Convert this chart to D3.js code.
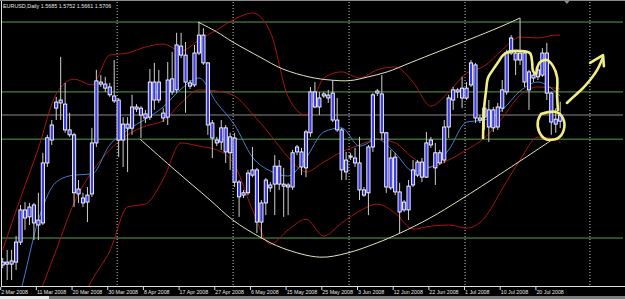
<!DOCTYPE html>
<html>
<head>
<style>
  body { margin: 0; background: #000; overflow: hidden; }
  text { font-family: "Liberation Sans", Arial, sans-serif; fill: #e6e6e6; }
</style>
<script src="https://d3js.org/d3.v7.min.js"></script>
</head>
<body>
<script>
const w = 625;
const h = 299;

// daily bars, Sunday sessions included (no Saturdays)
const dates = d3.timeDay.range(new Date(2008, 2, 2), new Date(2008, 6, 26)).filter(d => d.getDay() !== 6);

const open = [1.5189,1.5199,1.5192,1.5199,1.5268,1.5379,1.5355,1.5396,1.5327,1.5334,
  1.5541,1.5620,1.5730,1.5758,1.5744,1.5655,1.5638,1.5434,1.5420,1.5406,
  1.5434,1.5610,1.5820,1.5813,1.5803,1.5772,1.5758,1.5620,1.5675,1.5661,
  1.5734,1.5730,1.5710,1.5699,1.5820,1.5758,1.5713,1.5699,1.5831,1.5793,
  1.5944,1.5913,1.5817,1.5810,1.5920,1.5982,1.5886,1.5679,1.5620,1.5613,
  1.5662,1.5576,1.5627,1.5475,1.5438,1.5438,1.5517,1.5517,1.5337,1.5403,
  1.5465,1.5468,1.5530,1.5468,1.5458,1.5458,1.5596,1.5579,1.5524,1.5645,
  1.5786,1.5734,1.5779,1.5775,1.5782,1.5689,1.5655,1.5510,1.5565,1.5558,
  1.5541,1.5448,1.5438,1.5596,1.5789,1.5779,1.5645,1.5455,1.5561,1.5441,
  1.5379,1.5379,1.5465,1.5499,1.5544,1.5492,1.5620,1.5576,1.5541,1.5551,
  1.5665,1.5758,1.5793,1.5799,1.5765,1.5810,1.5879,1.5696,1.5699,1.5724,
  1.5662,1.5665,1.5730,1.5786,1.5920,1.5920,1.5896,1.5920,1.5793,1.5844,
  1.5838,1.5844,1.5920,1.5782,1.5675,1.5685];
const high = [1.5213,1.5241,1.5241,1.5289,1.5396,1.5406,1.5403,1.5403,1.5438,1.5576,
  1.5638,1.5689,1.5769,1.5907,1.5817,1.5714,1.5645,1.5482,1.5438,1.5458,
  1.5662,1.5862,1.5844,1.5838,1.5817,1.5896,1.5765,1.5699,1.5699,1.5776,
  1.5744,1.5737,1.5724,1.5865,1.5886,1.5862,1.5730,1.5889,1.5924,1.5990,
  1.5990,1.5958,1.5827,1.5948,1.6027,1.6006,1.5889,1.5689,1.5631,1.5689,
  1.5672,1.5645,1.5645,1.5482,1.5448,1.5517,1.5596,1.5524,1.5413,1.5489,
  1.5475,1.5568,1.5551,1.5524,1.5472,1.5586,1.5603,1.5593,1.5655,1.5803,
  1.5820,1.5786,1.5786,1.5793,1.5827,1.5765,1.5662,1.5579,1.5576,1.5593,
  1.5631,1.5458,1.5603,1.5782,1.5796,1.5844,1.5648,1.5586,1.5576,1.5472,
  1.5413,1.5482,1.5551,1.5551,1.5558,1.5648,1.5631,1.5610,1.5586,1.5689,
  1.5776,1.5803,1.5799,1.5838,1.5820,1.5896,1.5886,1.5706,1.5748,1.5758,
  1.5734,1.5748,1.5827,1.5931,1.5982,1.5924,1.6041,1.5924,1.5862,1.5851,
  1.5869,1.5937,1.5955,1.5786,1.5730,1.5752];
const low = [1.5178,1.5137,1.5137,1.5172,1.5258,1.5310,1.5327,1.5275,1.5275,1.5327,
  1.5527,1.5603,1.5689,1.5689,1.5645,1.5631,1.5389,1.5403,1.5389,1.5337,
  1.5424,1.5596,1.5803,1.5786,1.5769,1.5748,1.5561,1.5527,1.5510,1.5638,
  1.5717,1.5627,1.5679,1.5689,1.5724,1.5748,1.5682,1.5672,1.5776,1.5782,
  1.5903,1.5714,1.5796,1.5803,1.5913,1.5879,1.5638,1.5558,1.5599,1.5586,
  1.5541,1.5517,1.5458,1.5355,1.5420,1.5430,1.5492,1.5299,1.5282,1.5361,
  1.5441,1.5361,1.5448,1.5355,1.5361,1.5448,1.5568,1.5499,1.5492,1.5631,
  1.5730,1.5706,1.5765,1.5748,1.5682,1.5648,1.5482,1.5482,1.5551,1.5527,
  1.5413,1.5424,1.5361,1.5579,1.5772,1.5620,1.5438,1.5448,1.5430,1.5299,
  1.5372,1.5344,1.5458,1.5492,1.5475,1.5489,1.5593,1.5465,1.5534,1.5541,
  1.5627,1.5724,1.5765,1.5730,1.5758,1.5803,1.5679,1.5679,1.5655,1.5613,
  1.5648,1.5655,1.5717,1.5776,1.5913,1.5844,1.5879,1.5803,1.5724,1.5820,
  1.5827,1.5838,1.5758,1.5638,1.5645,1.5661];
const close = [1.5199,1.5192,1.5203,1.5268,1.5379,1.5351,1.5389,1.5334,1.5344,1.5541,
  1.5628,1.5672,1.5751,1.5748,1.5655,1.5638,1.5438,1.5451,1.5403,1.5430,
  1.5610,1.5824,1.5813,1.5799,1.5776,1.5755,1.5620,1.5675,1.5661,1.5734,
  1.5727,1.5706,1.5696,1.5820,1.5758,1.5820,1.5696,1.5827,1.5786,1.5948,
  1.5913,1.5820,1.5806,1.5920,1.5982,1.5886,1.5672,1.5627,1.5610,1.5662,
  1.5579,1.5631,1.5475,1.5424,1.5430,1.5506,1.5499,1.5337,1.5403,1.5482,
  1.5455,1.5530,1.5468,1.5461,1.5465,1.5576,1.5579,1.5527,1.5648,1.5786,
  1.5734,1.5765,1.5772,1.5765,1.5689,1.5655,1.5517,1.5551,1.5561,1.5541,
  1.5448,1.5430,1.5596,1.5776,1.5782,1.5645,1.5458,1.5558,1.5441,1.5372,
  1.5406,1.5461,1.5517,1.5544,1.5492,1.5610,1.5603,1.5524,1.5576,1.5665,
  1.5765,1.5793,1.5786,1.5765,1.5799,1.5886,1.5696,1.5689,1.5730,1.5665,
  1.5724,1.5734,1.5793,1.5920,1.5972,1.5896,1.5920,1.5820,1.5855,1.5834,
  1.5862,1.5920,1.5782,1.5682,1.5692,1.5706];

// indicator readings, taken every 4th bar plus the last one
const indBars = d3.range(0, 125, 4).concat([125]);
const bbUpper = [1.5241,1.5420,1.5592,1.5779,1.5830,1.5810,1.5913,1.5920,1.5941,1.5951,
  1.5927,1.5965,1.6000,1.6037,1.6058,1.5993,1.5769,1.5706,1.5834,1.5855,
  1.5834,1.5862,1.5872,1.5820,1.5737,1.5786,1.5851,1.5875,1.5931,1.5975,
  1.5972,1.5982,1.5982];
const bbMiddle = [1.4757,1.4913,1.5078,1.5241,1.5403,1.5510,1.5586,1.5638,1.5668,1.5686,
  1.5748,1.5793,1.5789,1.5772,1.5710,1.5638,1.5561,1.5510,1.5544,1.5579,
  1.5603,1.5623,1.5610,1.5558,1.5527,1.5551,1.5586,1.5627,1.5696,1.5775,
  1.5803,1.5799,1.5796];
const bbLower = [1.4550,1.4671,1.4792,1.4906,1.5020,1.5137,1.5237,1.5389,1.5399,1.5485,
  1.5610,1.5599,1.5586,1.5534,1.5379,1.5261,1.5310,1.5347,1.5289,1.5334,
  1.5375,1.5399,1.5368,1.5313,1.5323,1.5327,1.5316,1.5351,1.5451,1.5551,
  1.5630,1.5623,1.5610];
const maFast = [1.4930,1.5099,1.5344,1.5475,1.5499,1.5503,1.5603,1.5655,1.5692,1.5734,
  1.5796,1.5834,1.5748,1.5672,1.5561,1.5513,1.5496,1.5558,1.5648,1.5662,
  1.5599,1.5623,1.5575,1.5513,1.5527,1.5586,1.5682,1.5689,1.5724,1.5789,
  1.5820,1.5786,1.5772];

const tickBars = d3.range(0, 121, 8);
const tickLabels = ["2 Mar 2008","11 Mar 2008","20 Mar 2008","30 Mar 2008","8 Apr 2008",
  "17 Apr 2008","27 Apr 2008","6 May 2008","15 May 2008","25 May 2008","3 Jun 2008",
  "12 Jun 2008","22 Jun 2008","1 Jul 2008","10 Jul 2008","20 Jul 2008"];
const separators = [new Date(2008,3,1), new Date(2008,4,1), new Date(2008,5,1), new Date(2008,6,1), new Date(2008,7,1)];
const levels = [1.6027, 1.5786, 1.5623, 1.5282];

// drawn objects (bar position, price)
const upperArcBars = [43.8,48.0,51.6,57.7,62.8,68.9,73.4,77.9,81.7,86.2,91.3,98.0,104.8,111.5,116.0];
const upperArcPrices = [1.6027,1.5993,1.5958,1.5906,1.5865,1.5837,1.5827,1.5825,1.5837,1.5855,1.5886,1.5927,1.5968,1.6010,1.6041];
const lowerArcBars = [30.8,38.6,46.5,51.6,57.7,62.8,71.1,77.2,83.9,89.1,95.8,102.5,112.6,123.4];
const lowerArcPrices = [1.5623,1.5517,1.5413,1.5344,1.5285,1.5247,1.5216,1.5230,1.5265,1.5299,1.5351,1.5413,1.5513,1.5623];
const markBars = [107.7,107.9,108.4,108.8,109.9,111.1,112.2,113.3,116.0,118.2,118.7,118.9,119.6,119.8,120.5,122.0,123.4,124.3,124.3,124.5];
const markPrices = [1.5627,1.5724,1.5793,1.5834,1.5862,1.5889,1.5913,1.5924,1.5927,1.5920,1.5889,1.5858,1.5848,1.5868,1.5889,1.5896,1.5875,1.5837,1.5775,1.5724];
const ringBars = [120.7,124.1,125.6,125.8,124.5,121.8,120.3,120.0,120.7];
const ringPrices = [1.5710,1.5717,1.5696,1.5655,1.5627,1.5623,1.5648,1.5686,1.5710];
const arrowBars = [126.5,127.9,130.1,131.7,133.3,134.6];
const arrowPrices = [1.5748,1.5768,1.5799,1.5827,1.5862,1.5906];
const headBars = [131.7,134.6,134.8];
const headPrices = [1.5886,1.5913,1.5875];

const last = close.length - 1;

const x = d3.scaleLinear().domain([0, 139]).range([2.7, 2.7 + 4.46 * 139]);
const y = d3.scaleLinear().domain([1.5120, 1.6103]).range([285, 0]);

function barOf(d) {
  if (d <= dates[last]) return d3.bisector(v => v).left(dates, d);
  return last + d3.timeDay.count(dates[last], d);
}

const svg = d3.select("body").append("svg")
  .attr("width", w).attr("height", h)
  .style("display", "block").style("background", "#000");

svg.append("clipPath").attr("id", "plot")
  .append("rect").attr("x", 2).attr("y", 2).attr("width", 621).attr("height", 284);

// frame
svg.append("line").attr("x1", 0).attr("x2", w).attr("y1", 0.5).attr("y2", 0.5).attr("stroke", "#8a8a8a");
svg.append("line").attr("x1", 1.5).attr("x2", 1.5).attr("y1", 1).attr("y2", 287).attr("stroke", "#e0e0e0");
svg.append("line").attr("x1", 1).attr("x2", w).attr("y1", 286.5).attr("y2", 286.5).attr("stroke", "#e0e0e0");
svg.append("rect").attr("x", 0).attr("y", 296).attr("width", w).attr("height", 3).attr("fill", "#7c7c7c");
svg.append("rect").attr("x", 0).attr("y", 296).attr("width", 49).attr("height", 3).attr("fill", "#e8e8e8");

const g = svg.append("g").attr("clip-path", "url(#plot)");

// period separators
g.selectAll(".sep").data(separators).enter().append("line")
  .attr("x1", d => x(barOf(d)) - 1.5).attr("x2", d => x(barOf(d)) - 1.5)
  .attr("y1", 2).attr("y2", 286)
  .attr("stroke", "#c8c8c8").attr("stroke-dasharray", "1,2");

// horizontal levels
g.selectAll(".lvl").data(levels).enter().append("line")
  .attr("x1", 0).attr("x2", w)
  .attr("y1", d => y(d)).attr("y2", d => y(d))
  .attr("stroke", "#58a048").attr("stroke-width", 1);

g.append("line").attr("x1", 0).attr("x2", w)
  .attr("y1", y(close[last])).attr("y2", y(close[last]))
  .attr("stroke", "#5c5c5c").attr("stroke-width", 1.5);

// indicators
const indLine = d3.line().x((d, k) => x(indBars[k])).y(d => y(d)).curve(d3.curveMonotoneX);
[bbUpper, bbMiddle, bbLower].forEach(s => {
  g.append("path").attr("d", indLine(s)).attr("fill", "none").attr("stroke", "#a81414").attr("stroke-width", 1);
});
g.append("path").attr("d", indLine(maFast)).attr("fill", "none").attr("stroke", "#3f7fd0").attr("stroke-width", 1);

// candles
const bars = g.selectAll(".bar").data(dates).enter().append("g");
bars.append("line")
  .attr("x1", (d, i) => x(i)).attr("x2", (d, i) => x(i))
  .attr("y1", (d, i) => y(high[i])).attr("y2", (d, i) => y(low[i]))
  .attr("stroke", "#cfcfcf").attr("stroke-width", 1);
bars.append("rect")
  .attr("x", (d, i) => x(i) - 1.6).attr("width", 3.2)
  .attr("y", (d, i) => y(Math.max(open[i], close[i])))
  .attr("height", (d, i) => Math.max(1, Math.abs(y(open[i]) - y(close[i]))))
  .attr("fill", "#3c3ce8").attr("stroke", "#ffffff").attr("stroke-width", 0.9);

// drawn arcs
const objLine = (bs) => d3.line().x((d, k) => x(bs[k])).y(d => y(d)).curve(d3.curveCatmullRom);
g.append("path").attr("d", objLine(upperArcBars)(upperArcPrices)).attr("fill", "none").attr("stroke", "#e6e2c0").attr("stroke-width", 1);
g.append("path").attr("d", objLine(lowerArcBars)(lowerArcPrices)).attr("fill", "none").attr("stroke", "#e6e2c0").attr("stroke-width", 1);

// yellow marks
const yellow = "#f2ee86";
[[markBars, markPrices], [ringBars, ringPrices], [arrowBars, arrowPrices]].forEach(([bs, ps]) => {
  g.append("path").attr("d", objLine(bs)(ps)).attr("fill", "none")
    .attr("stroke", yellow).attr("stroke-width", 2.6)
    .attr("stroke-linecap", "round").attr("stroke-linejoin", "round");
});
g.append("path").attr("d", d3.line().x((d, k) => x(headBars[k])).y(d => y(d))(headPrices))
  .attr("fill", "none").attr("stroke", yellow).attr("stroke-width", 2.6)
  .attr("stroke-linecap", "round").attr("stroke-linejoin", "round");

// chart shift marker
svg.append("path")
  .attr("d", `M${x(126.5) - 2.5},1 L${x(126.5) + 2.5},1 L${x(126.5)},4 Z`)
  .attr("fill", "#8a8a8a");

// header
svg.append("text").attr("x", 3).attr("y", 8).style("font-size", "5.4px")
  .text(`EURUSD,Daily  ${open[last].toFixed(4)} ${high[last].toFixed(4)} ${low[last].toFixed(4)} ${close[last].toFixed(4)}`);

// time axis
svg.selectAll(".tk").data(tickBars).enter().append("line")
  .attr("x1", d => x(d) - 2).attr("x2", d => x(d) - 2)
  .attr("y1", 287).attr("y2", 290)
  .attr("stroke", "#e0e0e0");
svg.selectAll(".tl").data(tickBars).enter().append("text")
  .attr("x", d => x(d) - 1.5).attr("y", 294)
  .style("font-size", "5.3px")
  .text((d, k) => tickLabels[k]);
</script>
</body>
</html>
